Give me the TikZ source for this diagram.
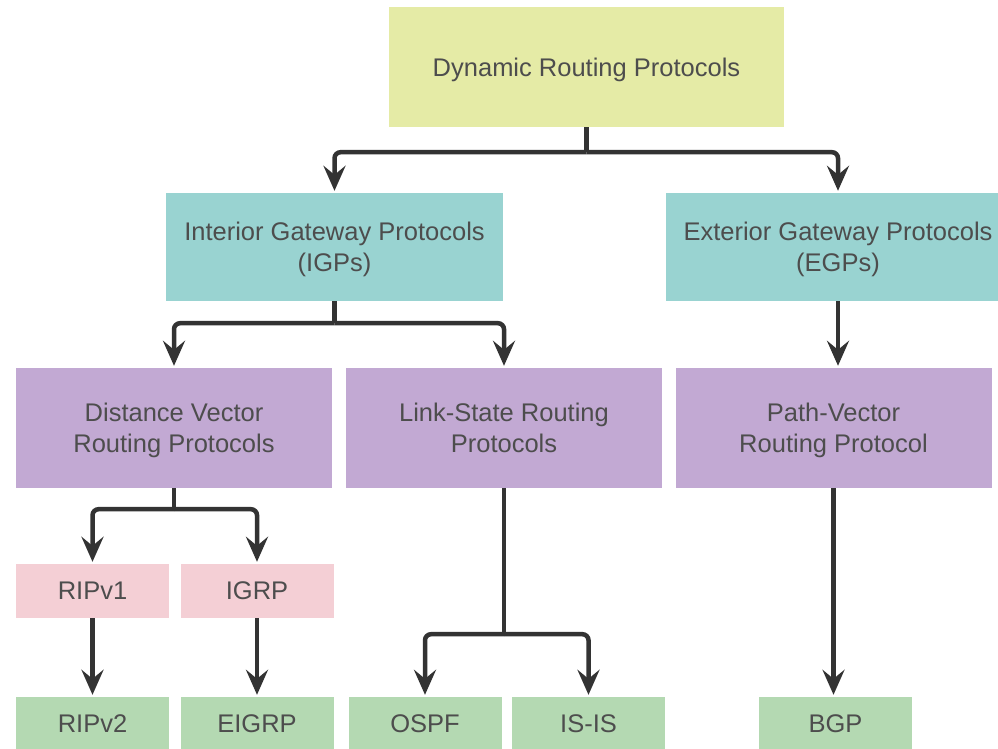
\documentclass[tikz,border=0pt]{standalone}
\usepackage{fontspec}
\setmainfont{Liberation Sans}
\usepackage{xcolor}
\usetikzlibrary{arrows.meta}
\definecolor{toplevel}{HTML}{E5EBA6}
\definecolor{gateway}{HTML}{99D3D1}
\definecolor{family}{HTML}{C2A9D3}
\definecolor{classic}{HTML}{F4CFD5}
\definecolor{current}{HTML}{B4D9B2}
\definecolor{textgrey}{HTML}{4D4D4D}
\definecolor{linegrey}{HTML}{333333}

\begin{document}
\begin{tikzpicture}[x=1pt,y=-1pt,
	box/.style={inner sep=0pt,align=center,text=textgrey,text depth=-4pt,font=\fontsize{25.5}{31}\selectfont},
	bigbox/.style={box,minimum width=316pt,minimum height=120pt,fill=family},
	smallbox/.style={box,minimum width=153pt,minimum height=54pt},
	stem/.style={line width=4.5pt,draw=linegrey},
	link/.style={stem,rounded corners=6pt,-{Stealth[length=25pt,width=22pt,inset=9pt]},shorten >=2pt}]
	\useasboundingbox (0,0) rectangle (998,748);
	% boxes
	\node[box,fill=toplevel,minimum width=395pt,minimum height=120pt] (drp) at (586.5,67) {Dynamic Routing Protocols};
	\node[box,fill=gateway,minimum width=337pt,minimum height=108pt] (igp) at (334.5,247) {Interior Gateway Protocols\\(IGPs)};
	\node[box,fill=gateway,minimum width=344pt,minimum height=108pt] (egp) at (838,247) {Exterior Gateway Protocols\\(EGPs)};
	\node[bigbox] (dv) at (174,428) {Distance Vector\\Routing Protocols};
	\node[bigbox] (ls) at (504,428) {Link-State Routing\\Protocols};
	\node[bigbox] (pv) at (833.5,428) {Path-Vector\\Routing Protocol};
	\node[smallbox,fill=classic] (ripa) at (92.5,591) {RIPv1};
	\node[smallbox,fill=classic] (igrp) at (257,591) {IGRP};
	\node[smallbox,fill=current] (ripb) at (92.5,724) {RIPv2};
	\node[smallbox,fill=current] (eigrp) at (257,724) {EIGRP};
	\node[smallbox,fill=current] (ospf) at (425,724) {OSPF};
	\node[smallbox,fill=current] (isis) at (588.5,724) {IS-IS};
	\node[smallbox,fill=current] (bgp) at (835.5,724) {BGP};
	% connectors
	\draw[stem] (drp.south) -- ++(0,25) coordinate (drpfork);
	\draw[link] (drpfork) -| (igp.north);
	\draw[link] (drpfork) -| (egp.north);
	\draw[stem] (igp.south) -- ++(0,22) coordinate (igpfork);
	\draw[link] (igpfork) -| (dv.north);
	\draw[link] (igpfork) -| (ls.north);
	\draw[link] (egp.south) -- (egp.south |- pv.north);
	\draw[stem] (dv.south) -- ++(0,21) coordinate (dvfork);
	\draw[link] (dvfork) -| (ripa.north);
	\draw[link] (dvfork) -| (igrp.north);
	\draw[link] (ripa.south) -- (ripb.north);
	\draw[link] (igrp.south) -- (eigrp.north);
	\draw[stem] (ls.south) -- ++(0,146) coordinate (lsfork);
	\draw[link] (lsfork) -| (ospf.north);
	\draw[link] (lsfork) -| (isis.north);
	\draw[link] (pv.south) -- (pv.south |- bgp.north);
\end{tikzpicture}
\end{document}
